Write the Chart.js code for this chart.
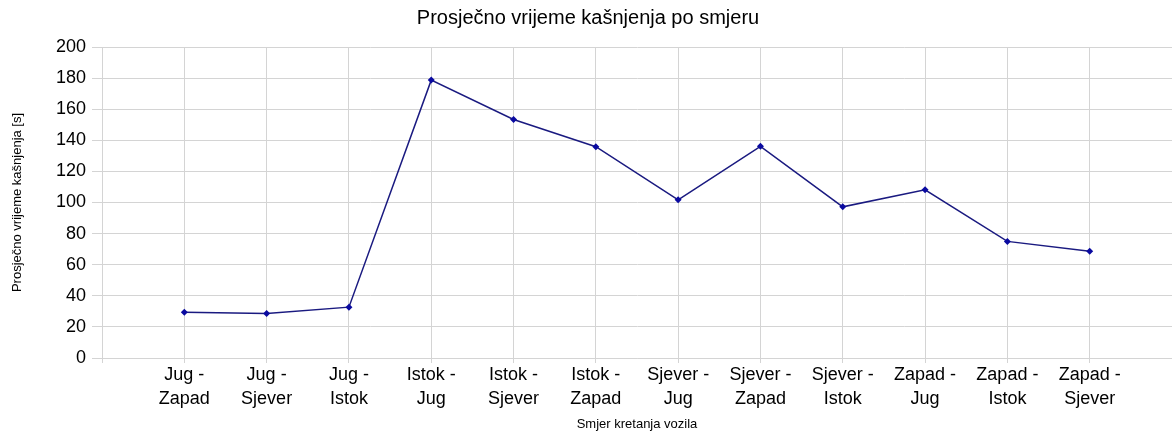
<!DOCTYPE html>
<html>
<head>
<meta charset="utf-8">
<script src="https://cdn.jsdelivr.net/npm/chart.js@4"></script>
<style>
  html, body { margin: 0; padding: 0; background: #fff; }
  #wrap { width: 1172px; height: 434px; }
</style>
</head>
<body>
<div id="wrap"><canvas id="delayChart"></canvas></div>
<script>
// Directions (x categories) and average delay in seconds
const directions = [
    'Jug - Zapad', 'Jug - Sjever', 'Jug - Istok',
    'Istok - Jug', 'Istok - Sjever', 'Istok - Zapad',
    'Sjever - Jug', 'Sjever - Zapad', 'Sjever - Istok',
    'Zapad - Jug', 'Zapad - Istok', 'Zapad - Sjever'
];
const avgDelay = [29.5, 28.6, 32.7, 178.7, 153.4, 135.9, 101.7, 136.1, 97.2, 108.2, 75.0, 68.6];
const yTicks = [0, 20, 40, 60, 80, 100, 120, 140, 160, 180, 200];

const font = 'Liberation Sans, Arial, sans-serif';
const gridColor = '#d4d4d4';

// Empty slot before the first and after the last direction, as in the original
const labels = [''].concat(directions.map(d => {
    const parts = d.split(' - ');
    return [parts[0] + ' -', parts[1]];
}), ['']);
const values = [null].concat(avgDelay, [null]);

new Chart(document.getElementById('delayChart'), {
    type: 'line',
    data: {
        labels: labels,
        datasets: [{
            data: values,
            borderColor: '#1a1a80',
            borderWidth: 1.5,
            backgroundColor: '#0a0aa0',
            pointStyle: 'rectRot',
            pointRadius: 3.5,
            pointBorderWidth: 0,
            tension: 0
        }]
    },
    options: {
        responsive: true,
        maintainAspectRatio: false,
        animation: false,
        // plot runs slightly past the right edge of the picture
        layout: { padding: { left: 0, right: -4, top: 0, bottom: 0 }, autoPadding: false },
        plugins: {
            legend: { display: false },
            tooltip: { enabled: false },
            title: {
                display: true,
                text: 'Prosječno vrijeme kašnjenja po smjeru',
                color: '#000',
                font: { family: font, size: 20, weight: 'normal' },
                padding: { top: 6, bottom: 17 }
            }
        },
        scales: {
            x: {
                offset: false,
                grid: { color: gridColor, tickLength: 5 },
                border: { color: gridColor },
                ticks: {
                    autoSkip: false,
                    maxRotation: 0,
                    color: '#000',
                    padding: 1,
                    font: { family: font, size: 18, lineHeight: 1.28 }
                },
                title: {
                    display: true,
                    text: 'Smjer kretanja vozila',
                    color: '#000',
                    font: { family: font, size: 13 },
                    padding: { top: 6, bottom: 2 }
                },
                afterFit: function(scale) {
                    scale.height = 76;
                    scale.paddingRight = 0;
                }
            },
            y: {
                min: 0,
                max: 200,
                afterBuildTicks: function(scale) {
                    scale.ticks = yTicks.map(v => ({ value: v }));
                },
                grid: { color: gridColor, tickLength: 10 },
                border: { color: gridColor },
                ticks: {
                    color: '#000',
                    padding: 6,
                    font: { family: font, size: 18 }
                },
                title: {
                    display: true,
                    text: 'Prosječno vrijeme kašnjenja [s]',
                    color: '#000',
                    font: { family: font, size: 13 },
                    padding: { top: 10, bottom: 4 }
                },
                afterFit: function(scale) { scale.width = 102; }
            }
        }
    }
});
</script>
</body>
</html>
